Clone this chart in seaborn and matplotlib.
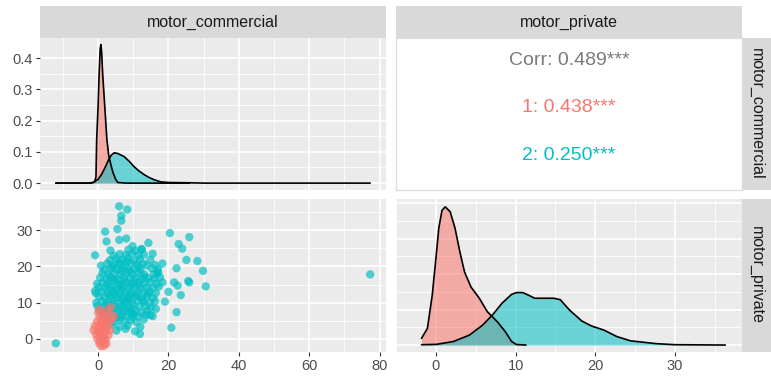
import matplotlib
matplotlib.use("Agg")
import matplotlib.pyplot as plt
import seaborn as sns
import pandas as pd

sns.set_theme(style="darkgrid")
plt.rcParams['font.family'] = ['Liberation Sans', 'DejaVu Sans']

RED = '#F8766D'
CYAN = '#00BFC4'

# densities
comm_x_1 = [-12, -2, -1.0, -0.6, -0.4, 0.0, 0.3, 0.6, 0.8, 1.0, 1.3, 1.9, 2.5, 3.0, 3.5, 4.2, 5.0, 5.6, 8, 26]
comm_y_1 = [0, 0, 0.003, 0.02, 0.14, 0.245, 0.35, 0.43, 0.443, 0.42, 0.35, 0.245, 0.14, 0.09, 0.065, 0.035,
            0.012, 0.002, 0, 0]
comm_x_2 = [-12, -3, -1.5, 0, 1.0, 2.0, 3.0, 3.8, 4.6, 5.5, 7.4, 9, 10.2, 11.5, 13.1, 14.5, 15.9, 17.8, 20,
            26.5, 30, 77.3]
comm_y_2 = [0, 0, 0.002, 0.012, 0.028, 0.05, 0.075, 0.09, 0.097, 0.095, 0.085, 0.068, 0.053, 0.04, 0.027,
            0.018, 0.011, 0.004, 0.002, 0.001, 0, 0]
priv_x_1 = [-1.8, -1.06, -0.45, -0.04, 0.37, 0.77, 1.18, 1.8, 2.4, 3.0, 3.6, 4.4, 5.45, 6.46, 7.7, 8.7, 9.5,
            10.1, 11.3]
priv_y_1 = [0.0094, 0.0235, 0.0705, 0.117, 0.165, 0.19, 0.195, 0.188, 0.165, 0.132, 0.103, 0.082, 0.066,
            0.047, 0.033, 0.019, 0.005, 0.0008, 0]
priv_x_2 = [-1.8, 0.1, 2.2, 4.2, 5.85, 7.07, 8.3, 9.5, 10.1, 10.9, 11.5, 12.4, 14.8, 15.6, 16.8, 18.3, 19.5,
            21.1, 22.7, 24.4, 26.0, 27.6, 30.0, 36.3]
priv_y_2 = [0.0005, 0.001, 0.005, 0.014, 0.028, 0.042, 0.059, 0.0715, 0.074, 0.074, 0.071, 0.066, 0.066,
            0.064, 0.049, 0.034, 0.027, 0.021, 0.012, 0.006, 0.004, 0.002, 0.0005, 0]

# (motor_commercial, motor_private) points, group 2
points_2 = [
    (5.2, 2.3), (7.8, 2.8), (10.5, 2.1),
    (3.8, 3.9), (6.1, 3.4), (8.4, 3.7), (12.0, 3.3),
    (2.5, 5.2), (4.3, 4.7), (6.0, 5.3), (7.6, 4.9), (9.2, 5.1), (10.9, 4.6), (13.0, 5.4),
    (1.2, 6.5), (2.9, 6.0), (4.6, 6.6), (6.3, 6.1), (8.0, 6.4), (9.7, 6.8), (11.4, 6.2), (13.6, 6.7),
    (0.4, 7.9), (2.1, 7.4), (3.8, 7.7), (5.5, 7.3), (7.2, 7.8), (8.9, 7.5), (10.6, 7.9), (12.3, 7.2), (14.0, 7.7),
    (-0.2, 9.1), (1.5, 8.7), (3.2, 9.2), (4.9, 8.8), (6.6, 9.0), (8.3, 8.6), (10.0, 9.3), (11.7, 8.9),
    (13.4, 9.1), (15.0, 8.7),
    (-0.5, 10.0), (1.1, 10.4), (2.8, 10.1), (4.5, 10.5), (6.2, 9.9), (7.9, 10.3), (9.6, 10.0), (11.3, 10.6),
    (13.0, 10.2), (14.7, 9.9), (16.2, 10.4),
    (0.3, 11.7), (2.0, 11.3), (3.7, 11.8), (5.4, 11.4), (7.1, 11.6), (8.8, 11.2), (10.5, 11.7), (12.2, 11.4),
    (13.9, 11.8), (15.6, 11.3),
    (-0.6, 12.6), (1.0, 13.0), (2.7, 12.7), (4.4, 13.1), (6.1, 12.5), (7.8, 12.9), (9.5, 12.6), (11.2, 13.0),
    (12.9, 12.7), (14.6, 13.1), (16.4, 12.6),
    (0.2, 14.3), (1.9, 13.9), (3.6, 14.2), (5.3, 13.8), (7.0, 14.4), (8.7, 14.0), (10.4, 14.3), (12.1, 13.9),
    (13.8, 14.2), (15.5, 14.0), (17.2, 14.4),
    (-0.3, 15.2), (1.3, 15.6), (3.0, 15.3), (4.7, 15.7), (6.4, 15.1), (8.1, 15.5), (9.8, 15.2), (11.5, 15.6),
    (13.2, 15.3), (14.9, 15.7), (16.6, 15.2),
    (0.6, 16.9), (2.3, 16.5), (4.0, 16.8), (5.7, 16.4), (7.4, 17.0), (9.1, 16.6), (10.8, 16.9), (12.5, 16.5),
    (14.2, 16.8), (16.0, 16.6), (17.6, 17.0),
    (1.2, 18.2), (2.9, 17.8), (4.6, 18.1), (6.3, 17.7), (8.0, 18.3), (9.7, 17.9), (11.4, 18.2), (13.1, 17.8),
    (16.8, 18.1),
    (1.8, 19.1), (3.5, 19.5), (5.2, 19.2), (6.9, 19.6), (8.6, 19.0), (10.3, 19.4), (12.0, 19.1), (15.2, 19.5),
    (17.0, 19.2),
    (2.6, 20.8), (4.3, 20.4), (6.0, 20.7), (7.7, 20.3), (9.4, 20.9), (11.1, 20.5), (12.8, 20.8), (16.2, 20.4),
    (3.4, 21.7), (5.1, 22.1), (6.8, 21.8), (8.5, 22.2), (10.2, 21.6), (11.9, 22.0), (14.8, 21.8),
    (4.4, 23.0), (6.2, 23.4), (7.9, 23.1), (9.6, 23.5), (11.5, 23.0), (13.0, 23.3),
    (8.6, 24.6), (10.5, 24.3), (12.4, 24.7),
    # denser core
    (3.0, 8.1), (5.6, 8.3), (7.5, 9.6), (9.3, 8.2), (4.1, 9.7), (6.9, 10.9), (8.4, 11.0), (5.0, 12.2),
    (3.1, 12.0), (9.0, 12.3), (10.9, 12.1), (6.8, 13.5), (4.0, 13.4), (11.6, 14.8), (9.3, 14.7),
    (5.9, 14.8), (2.5, 14.9), (7.6, 16.1), (10.2, 16.0), (4.8, 16.2), (3.4, 17.2), (13.2, 17.1),
    (6.6, 18.8), (9.2, 18.6), (11.6, 19.8), (4.2, 19.8), (8.2, 21.3), (6.0, 21.2), (13.8, 20.3),
    (15.8, 17.9), (14.2, 12.4), (12.6, 10.7), (2.2, 9.6), (7.0, 6.9), (5.3, 5.9), (10.2, 7.0),
    # outlying points
    (-12.0, -1.2), (77.3, 17.8), (6.0, 36.6), (8.3, 35.7), (6.6, 34.0), (6.6, 32.6), (2.0, 29.6), (5.5, 30.3),
    (2.4, 26.9), (6.0, 27.3), (8.0, 27.7), (-0.85, 23.1), (3.5, 24.4), (0.8, 20.2), (-0.85, 13.2),
    (20.4, 29.2), (25.9, 28.1), (22.9, 26.2), (23.9, 24.9), (25.1, 21.8), (28.2, 21.5), (29.8, 18.8),
    (30.6, 14.5), (25.6, 16.0), (25.9, 15.6), (22.3, 19.5), (21.6, 15.6), (22.6, 14.7), (23.5, 12.1),
    (20.0, 13.0), (19.0, 10.3), (22.3, 7.4), (20.8, 3.1), (11.9, 1.4), (14.8, 6.6), (15.5, 6.3),
    (18.3, 15.6), (18.3, 20.8), (17.1, 18.4), (15.5, 23.5), (14.3, 26.5), (12.3, 24.8), (9.8, 25.6),
    (16.4, 8.3), (9.8, 6.0),
]

# group 1
points_1 = [
    (0.5, 8.2), (3.6, 8.8), (3.1, 6.8), (4.5, 6.3), (2.2, 5.9), (1.2, 7.0), (0.0, 7.3), (2.7, 7.9), (3.9, 5.4),
    (-0.3, 4.8), (0.9, 5.0), (2.1, 4.6), (3.3, 4.9), (1.6, 6.2), (0.4, 6.0),
    (-0.9, 3.6), (0.3, 3.4), (1.5, 3.8), (2.7, 3.5), (0.9, 4.3), (2.0, 2.9),
    (-1.3, 2.4), (-0.1, 2.2), (1.1, 2.6), (2.3, 2.3), (3.4, 2.5), (0.5, 1.7),
    (-0.6, 1.2), (0.6, 1.0), (1.8, 1.4), (3.0, 1.1), (1.3, 0.6),
    (-0.2, 0.0), (1.0, 0.2), (2.2, -0.1), (0.5, -0.6), (1.8, -0.5),
    (0.3, -1.2), (1.4, -1.0), (2.4, -1.3),
    (0.8, -2.0), (1.7, -1.9),
]

corr_labels = ['Corr: 0.489***', '1: 0.438***', '2: 0.250***']
corr_colors = ['#7a7a7a', RED, CYAN]

W, H = 771, 379
fig = plt.figure(figsize=(7.71, 3.79), dpi=100)
fig.patch.set_facecolor('white')


def box(x0, y0, x1, y1):
    return [x0 / W, 1 - y1 / H, (x1 - x0) / W, (y1 - y0) / H]


def panel(rect, xlim, ylim, xmaj, xmin, ymaj, ymin):
    ax = fig.add_axes(box(*rect))
    ax.set_facecolor('#EBEBEB')
    ax.set_xlim(xlim)
    ax.set_ylim(ylim)
    ax.set_xticks(xmaj)
    ax.set_xticks(xmin, minor=True)
    ax.set_yticks(ymaj)
    ax.set_yticks(ymin, minor=True)
    ax.grid(which='major', color='white', lw=1.2)
    ax.grid(which='minor', color='white', lw=0.6)
    ax.set_axisbelow(True)
    for s in ax.spines.values():
        s.set_visible(False)
    ax.tick_params(which='major', bottom=True, left=True, length=3, width=0.8, color='#333333',
                   labelcolor='#4D4D4D', labelsize=10.5, pad=2)
    ax.tick_params(which='minor', length=0)
    return ax


def strip(rect, text, rotation=0):
    ax = fig.add_axes(box(*rect))
    ax.set_facecolor('#D9D9D9')
    ax.set_xticks([])
    ax.set_yticks([])
    ax.grid(False)
    for s in ax.spines.values():
        s.set_visible(False)
    ax.text(0.5, 0.5, text, rotation=rotation, ha='center', va='center', fontsize=11.5, color='#1A1A1A',
            transform=ax.transAxes)


def density(ax, x, y, color):
    ax.fill_between(x, y, 0, color=color, alpha=0.55, lw=0)
    sns.lineplot(x=x, y=y, color='black', lw=1.2, sort=False, estimator=None, ax=ax)


comm_lim = (-16.5, 81.8)
priv_lim = (-3.8, 38.4)

# top-left: density of motor_commercial
ax = panel((40, 38, 386, 190), comm_lim, (-0.022, 0.464),
           [0, 20, 40, 60, 80], [-10, 10, 30, 50, 70],
           [0, 0.1, 0.2, 0.3, 0.4], [0.05, 0.15, 0.25, 0.35])
density(ax, comm_x_1, comm_y_1, RED)
density(ax, comm_x_2, comm_y_2, CYAN)
ax.set_yticklabels(['0.0', '0.1', '0.2', '0.3', '0.4'])
ax.tick_params(axis='x', which='major', length=0, labelbottom=False)
ax.set_xlabel('')
ax.set_ylabel('')

# top-right: correlations
ax = fig.add_axes(box(396, 38, 742, 190))
ax.set_facecolor('white')
ax.set_xticks([])
ax.set_yticks([])
ax.grid(False)
for s in ax.spines.values():
    s.set_color('#DEDEDE')
    s.set_linewidth(1.0)
for i, (lab, col) in enumerate(zip(corr_labels, corr_colors)):
    ax.text(0.5, 0.855 - i * 0.315, lab, ha='center', va='center', fontsize=14, color=col,
            transform=ax.transAxes)

# bottom-left: scatter
df = pd.DataFrame(points_1 + points_2, columns=['motor_commercial', 'motor_private'])
df['group'] = ['1'] * len(points_1) + ['2'] * len(points_2)
df = df.iloc[::-1]
ax = panel((40, 199, 386, 352), comm_lim, (-3.6, 38.6),
           [0, 20, 40, 60, 80], [-10, 10, 30, 50, 70],
           [0, 10, 20, 30], [5, 15, 25, 35])
sns.scatterplot(data=df, x='motor_commercial', y='motor_private', hue='group',
                palette={'1': RED, '2': CYAN}, s=36, alpha=0.68, linewidth=0, legend=False, ax=ax)
ax.set_xlabel('')
ax.set_ylabel('')

# bottom-right: density of motor_private
ax = panel((396, 199, 742, 352), priv_lim, (-0.0098, 0.206),
           [0, 10, 20, 30], [-5, 5, 15, 25, 35],
           [0, 0.05, 0.10, 0.15, 0.20], [0.025, 0.075, 0.125, 0.175])
density(ax, priv_x_1, priv_y_1, RED)
density(ax, priv_x_2, priv_y_2, CYAN)
ax.tick_params(axis='y', which='major', length=0, labelleft=False)
ax.set_xlabel('')
ax.set_ylabel('')

strip((40, 6, 386, 38), 'motor_commercial')
strip((396, 6, 742, 38), 'motor_private')
strip((742, 38, 771, 190), 'motor_commercial', rotation=-90)
strip((742, 199, 771, 352), 'motor_private', rotation=-90)

fig.savefig('out.png', dpi=100)
